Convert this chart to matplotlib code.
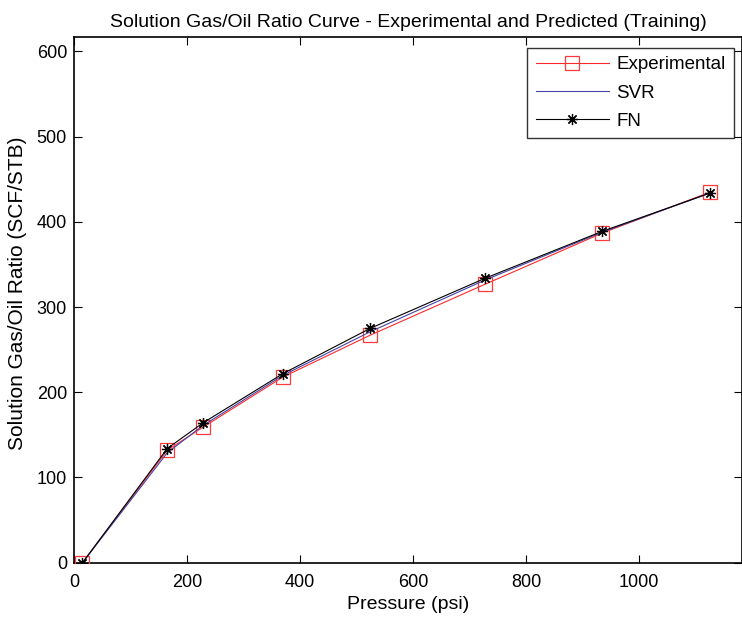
import matplotlib
matplotlib.use("Agg")
import matplotlib.pyplot as plt

plt.rcParams['font.family'] = ['Liberation Sans', 'DejaVu Sans']

# pressure points (psi)
pressure = [15, 165, 228, 370, 524, 728, 935, 1126]

# solution gas/oil ratio (SCF/STB)
experimental = [0, 132, 159, 218, 267, 327, 387, 435]
svr = [0, 129, 161, 220, 271, 332, 388, 434]
fn = [0, 134, 164, 222, 275, 334, 389, 434]

fig = plt.figure(figsize=(7.42, 6.23), dpi=100, facecolor='white')
ax = fig.add_axes([74 / 742, 1 - 562.7 / 623, 668 / 742, (562.7 - 37) / 623])

ax.plot(pressure, experimental, color='#ff2a2a', linewidth=0.8, marker='s',
        markersize=9.5, markerfacecolor='none', markeredgecolor='#ff3a3a',
        markeredgewidth=0.9, label='Experimental', zorder=3)
ax.plot(pressure, svr, color='#4444aa', linewidth=0.8, label='SVR', zorder=3)
ax.plot(pressure, fn, color='black', linewidth=0.8, marker=(8, 2, 0),
        markersize=8, markeredgewidth=0.9, label='FN', zorder=4)

ax.set_xlim(0, 1182)
ax.set_ylim(0, 617)
ax.set_xticks([0, 200, 400, 600, 800, 1000])
ax.set_yticks([0, 100, 200, 300, 400, 500, 600])

ax.tick_params(direction='in', top=True, right=True, length=6, width=0.8,
               labelsize=13)
ax.tick_params(axis='x', pad=8)
ax.tick_params(axis='y', pad=5)
for s in ax.spines.values():
    s.set_linewidth(1.2)

ax.set_xlabel('Pressure (psi)', fontsize=14, labelpad=4)
ax.set_ylabel('Solution Gas/Oil Ratio (SCF/STB)', fontsize=15)
ax.yaxis.set_label_coords(-0.071, 0.512)
ax.set_title('Solution Gas/Oil Ratio Curve - Experimental and Predicted (Training)',
             fontsize=14, pad=7)

leg = ax.legend(loc='upper right', bbox_to_anchor=(734 / 742, 1 - 47.7 / 623),
                bbox_transform=fig.transFigure, fontsize=13.5, frameon=True,
                fancybox=False, edgecolor='black', borderaxespad=0,
                handlelength=3.9, handletextpad=0.4, labelspacing=0.6,
                borderpad=0.45)
leg.get_frame().set_linewidth(1.0)

fig.savefig('out.png', dpi=100, facecolor='white')
